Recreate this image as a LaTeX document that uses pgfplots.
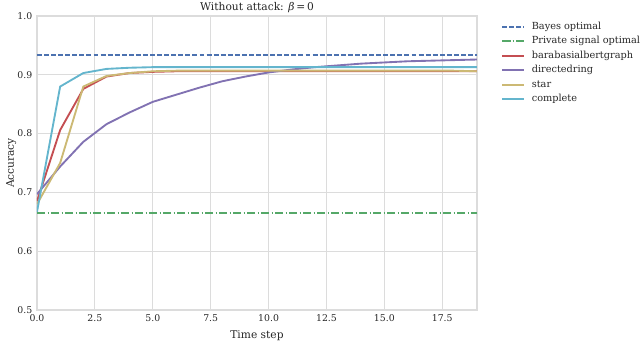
\documentclass[border=0pt]{standalone}
\usepackage{fontspec}
\setmainfont{DejaVu Serif}
\usepackage{pgfplots}
\pgfplotsset{compat=1.18}
\definecolor{sbblue}{HTML}{4C72B0}
\definecolor{sbgreen}{HTML}{55A868}
\definecolor{sbred}{HTML}{C44E52}
\definecolor{sbpurple}{HTML}{8172B2}
\definecolor{sbgold}{HTML}{CCB974}
\definecolor{sbcyan}{HTML}{64B5CD}
\definecolor{gridc}{HTML}{DCDCDC}
\definecolor{txt}{HTML}{262626}
\begin{document}
\begin{tikzpicture}
\path[use as bounding box] (-27.75pt,-24pt) rectangle (452.25pt,232.5pt);
\begin{axis}[
  scale only axis,
  width=330pt, height=220.5pt,
  xmin=0, xmax=19, ymin=0.5, ymax=1.0,
  xtick={0,2.5,5,7.5,10,12.5,15,17.5},
  xticklabels={0.0,2.5,5.0,7.5,10.0,12.5,15.0,17.5},
  ytick={0.5,0.6,0.7,0.8,0.9,1.0},
  yticklabels={0.5,0.6,0.7,0.8,0.9,1.0},
  major tick length=0pt,
  grid=major,
  grid style={gridc, line width=0.7pt},
  axis line style={gridc, line width=0.9pt},
  tick label style={font=\fontsize{7}{8}\selectfont, color=txt},
  label style={font=\fontsize{8}{9}\selectfont, color=txt},
  ylabel style={yshift=-6pt},
  title style={font=\fontsize{8}{9}\selectfont, color=txt, yshift=-7pt},
  title={Without attack: {\itshape β}\,=\,0},
  xlabel={Time step},
  ylabel={Accuracy},
  legend style={at={(axis description cs:1,1)}, anchor=north west,
    xshift=15pt, yshift=-0.6pt, draw=none, fill=none,
    font=\fontsize{7.3}{8.3}\selectfont, text=txt,
    row sep=0.6pt,
    nodes={inner sep=1.5pt, text height=5.5pt, text depth=1.8pt},
    /tikz/every odd column/.append style={column sep=4pt}},
  legend cell align=left,
  legend image code/.code={\draw[#1, line width=1.4pt] (0pt,0pt) -- (16pt,0pt);},
]
\addplot[sbblue, line width=1.4pt, dash pattern=on 3.7pt off 1.6pt] coordinates {(0,0.9335) (19,0.9335)};
\addplot[sbgreen, line width=1.4pt, dash pattern=on 6.3pt off 1.6pt on 1pt off 1.6pt] coordinates {(0,0.6645) (19,0.6645)};
\addplot[sbred, line width=1.4pt] coordinates {
(0,0.685) (1,0.806) (2,0.876) (3,0.897) (4,0.903) (5,0.905) (6,0.906) (7,0.906)
(8,0.906) (9,0.906) (10,0.906) (11,0.906) (12,0.906) (13,0.906) (14,0.906)
(15,0.906) (16,0.906) (17,0.906) (18,0.906) (19,0.906)};
\addplot[sbpurple, line width=1.4pt] coordinates {
(0,0.697) (1,0.744) (2,0.786) (3,0.816) (4,0.836) (5,0.854) (6,0.866) (7,0.878)
(8,0.889) (9,0.897) (10,0.904) (11,0.909) (12,0.913) (13,0.916) (14,0.919)
(15,0.921) (16,0.923) (17,0.924) (18,0.925) (19,0.926)};
\addplot[sbgold, line width=1.4pt] coordinates {
(0,0.680) (1,0.750) (2,0.880) (3,0.898) (4,0.903) (5,0.906) (6,0.907) (7,0.907)
(8,0.907) (9,0.907) (10,0.907) (11,0.907) (12,0.907) (13,0.907) (14,0.907)
(15,0.907) (16,0.907) (17,0.907) (18,0.907) (19,0.906)};
\addplot[sbcyan, line width=1.4pt] coordinates {
(0,0.667) (1,0.880) (2,0.903) (3,0.910) (4,0.912) (5,0.913) (6,0.913) (7,0.913)
(8,0.913) (9,0.913) (10,0.913) (11,0.913) (12,0.913) (13,0.913) (14,0.913)
(15,0.913) (16,0.913) (17,0.913) (18,0.913) (19,0.913)};
\legend{Bayes optimal, Private signal optimal, barabasialbertgraph, directedring, star, complete}
\end{axis}
\end{tikzpicture}
\end{document}
